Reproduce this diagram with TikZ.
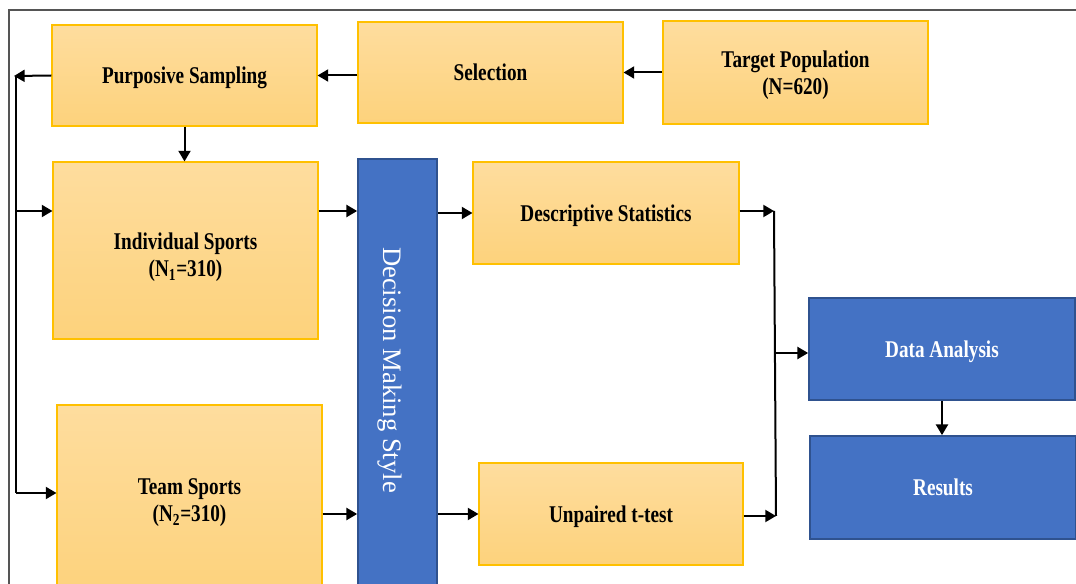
\documentclass[tikz,border=0pt]{standalone}
\usepackage{fontspec}
\setmainfont{Liberation Serif}
\newfontfamily\condfont[FakeStretch=0.8]{Liberation Serif}
\usetikzlibrary{arrows.meta}
\definecolor{boxedge}{HTML}{FFC000}
\definecolor{boxtop}{HTML}{FEDD9E}
\definecolor{boxbot}{HTML}{FDD27C}
\definecolor{bluefill}{HTML}{4472C4}
\definecolor{blueedge}{HTML}{2F528F}
\definecolor{framegray}{HTML}{555555}
\begin{document}
\begin{tikzpicture}[x=0.75pt,y=-0.75pt,
  sz/.style 2 args={minimum width=#1*0.75pt, minimum height=#2*0.75pt},
  btext/.style={align=center, inner sep=0pt, text depth=0pt, font=\condfont\bfseries\fontsize{18}{20.5}\selectfont},
  obox/.style={draw=boxedge, line width=0.8pt, top color=boxtop, bottom color=boxbot, btext},
  bbox/.style={draw=blueedge, line width=1.3pt, fill=bluefill, text=white, btext},
  arr/.style={line width=1.5pt, -{Triangle[length=8pt,width=9pt]}},
  ln/.style={line width=1.5pt}]
\clip (0,0) rectangle (1076,584);
\fill[white] (0,0) rectangle (1076,584);
\draw[framegray, line width=1.2pt] (9,590) -- (9,10) -- (1080,10);

% boxes
\node[obox, sz={265}{101}] (ps)  at (184.5,75.5) {Purposive Sampling};
\node[obox, sz={265}{101}] (sel) at (490.5,72.5) {Selection};
\node[obox, sz={265}{103}] (tp)  at (795.5,72.5) {Target Population\\(N=620)};
\node[obox, sz={265}{177}] (is)  at (185.5,250.5) {};
\node[btext] (istext) at (185.5,255) {Individual Sports\\(N\textsubscript{1}=310)};
\node[obox, sz={265}{190}] (ts)  at (189.5,500) {Team Sports\\(N\textsubscript{2}=310)};
\node[bbox, sz={79}{426}]  (dms) at (397.5,372) {};
\node[rotate=-90, text=white, inner sep=0pt, font=\fontsize{20}{24}\selectfont] (dmstext) at (390,370) {Decision Making Style};
\node[obox, sz={266}{102}] (ds)  at (606,213) {Descriptive Statistics};
\node[obox, sz={264}{102}] (ut)  at (611,514) {Unpaired t-test};
\node[bbox, sz={266}{102}] (da)  at (942,349) {Data Analysis};
\node[bbox, sz={266}{103}] (res) at (943,487.5) {Results};

% helper coordinates
\coordinate (lt) at (16,76);
\coordinate (li) at (16,211);
\coordinate (lb) at (16,493);
\coordinate (rt) at (774,211);
\coordinate (rm) at (775,353);
\coordinate (rb) at (776,516);

% connectors
\draw[arr] (tp.west) -- (tp.west -| sel.east);
\draw[arr] (ps.east -| sel.west) -- (ps.east);
\draw[arr] (ps.west) -- ([xshift=-1.5pt]lt);
\draw[ln] (lt) -- (lb);
\draw[arr] (li) -- (li -| is.west);
\draw[arr] (lb) -- (lb -| ts.west);
\draw[arr] (ps.south) -- (ps.south |- is.north);
\draw[arr] (is.east |- li) -- (dms.west |- li);
\draw[arr] (ts.east |- ut.west) -- (dms.west |- ut.west);
\draw[arr] (dms.east |- ds.west) -- (ds.west);
\draw[arr] (dms.east |- ut.west) -- (ut.west);
\draw[arr] (ds.east |- rt) -- (rt);
\draw[ln] (rt) -- (rb);
\draw[arr] (ut.east |- rb) -- (rb);
\draw[arr] (rm) -- (rm -| da.west);
\draw[arr] (da.south) -- (da.south |- res.north);
\end{tikzpicture}
\end{document}
